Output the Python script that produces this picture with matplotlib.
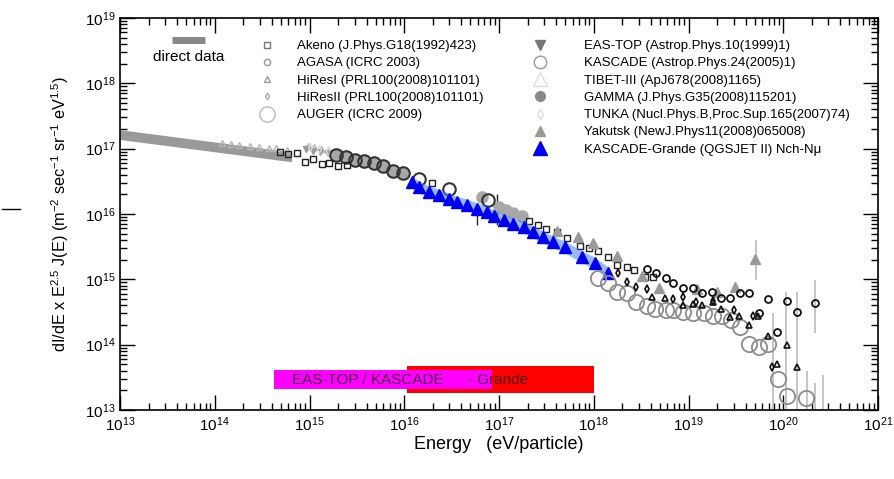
import matplotlib
matplotlib.use('Agg')
import numpy as np
import matplotlib.pyplot as plt
from matplotlib.lines import Line2D
from matplotlib.ticker import LogLocator, NullFormatter

plt.rcParams['font.family'] = ['Liberation Sans', 'DejaVu Sans']
plt.rcParams['mathtext.fontset'] = 'custom'
plt.rcParams['mathtext.rm'] = 'Liberation Sans'
plt.rcParams['mathtext.it'] = 'Liberation Sans:italic'
plt.rcParams['mathtext.bf'] = 'Liberation Sans:bold'

# all values are log10(E / eV) and log10(E^2.5 J(E))
direct_logE = [13.0, 14.81]
direct_top = [17.29, 16.95]
direct_bot = [17.14, 16.80]

tibet_logE = [14.08, 14.17, 14.26, 14.37, 14.47, 14.57, 14.65, 14.76,
              14.98, 15.05, 15.12, 15.19, 15.27, 15.34, 15.43]
tibet_logF = [17.09, 17.07, 17.06, 17.04, 17.03, 17.01, 17.01, 16.98,
              17.04, 17.03, 17.00, 16.98, 16.95, 16.93, 16.89]

eastop_logE = [14.96, 15.04, 15.11, 15.20]
eastop_logF = [16.99, 16.97, 16.95, 16.93]

tunka_logE = [15.01, 15.10, 15.20, 15.31]
tunka_logF = [17.02, 17.00, 16.97, 16.94]

kascade_logE = [15.28, 15.39, 15.48, 15.58, 15.68, 15.78, 15.88, 15.99, 16.16, 16.47, 16.88]
kascade_logF = [16.90, 16.87, 16.83, 16.81, 16.78, 16.73, 16.66, 16.63, 16.54, 16.38, 16.21]

gamma_logE = [15.28, 15.39, 15.48, 15.58, 15.68, 15.78, 15.88, 15.99, 16.82, 17.00, 17.07, 17.15, 17.24]
gamma_logF = [16.90, 16.87, 16.83, 16.81, 16.78, 16.73, 16.66, 16.63, 16.26, 16.11, 16.06, 16.02, 15.97]

akeno_logE = [14.69, 14.77, 14.87, 14.95, 15.04, 15.13, 15.21, 15.30, 15.40, 16.29,
              17.32, 17.41, 17.50, 17.61, 17.72, 17.86, 17.95, 18.04, 18.15, 18.25,
              18.35, 18.43, 18.54, 18.63]
akeno_logF = [16.95, 16.92, 16.93, 16.80, 16.84, 16.77, 16.78, 16.73, 16.75, 16.47,
              15.89, 15.83, 15.77, 15.72, 15.63, 15.51, 15.48, 15.43, 15.34, 15.22,
              15.19, 15.14, 15.04, 15.04]

yakutsk_logE = [17.61, 17.83, 17.99, 18.25, 18.51, 18.69, 19.09, 19.30, 19.49, 19.70]
yakutsk_logF = [15.74, 15.65, 15.56, 15.36, 15.05, 14.87, 14.85, 14.81, 14.88, 15.31]

grande_logE = [16.08, 16.16, 16.26, 16.37, 16.47, 16.56, 16.66, 16.77, 16.87, 16.95,
               17.05, 17.15, 17.26, 17.36, 17.46, 17.57, 17.70, 17.88, 18.01, 18.15]
grande_logF = [16.49, 16.41, 16.34, 16.29, 16.23, 16.18, 16.14, 16.08, 16.03, 15.97,
               15.91, 15.85, 15.80, 15.72, 15.65, 15.57, 15.49, 15.34, 15.25, 15.10]
grande_band = 0.09  # systematic band half width (dex)

agasa_logE = [18.56, 18.66, 18.76, 18.84, 18.94, 19.05, 19.14, 19.25, 19.34,
              19.44, 19.54, 19.64, 19.74, 19.84, 19.93, 20.04, 20.15, 20.33]
agasa_logF = [15.16, 15.10, 15.02, 14.94, 14.87, 14.87, 14.79, 14.81, 14.71,
              14.71, 14.79, 14.79, 14.48, 14.70, 14.19, 14.67, 14.50, 14.64]

hires1_logE = [18.62, 18.75, 18.94, 19.05, 19.14, 19.26, 19.34, 19.44, 19.53,
               19.64, 19.73, 19.84, 19.93, 20.04, 20.15]
hires1_logF = [14.73, 14.71, 14.61, 14.62, 14.61, 14.65, 14.55, 14.42, 14.44,
               14.30, 14.44, 14.13, 13.70, 13.99, 13.66]

hires2_logE = [18.26, 18.35, 18.45, 18.56, 18.84, 18.94, 19.08, 19.26, 19.48, 19.68, 19.88]
hires2_logF = [15.10, 14.96, 14.88, 14.85, 14.70, 14.73, 14.65, 14.67, 14.53, 14.44, 13.66]

auger_logE = [18.04, 18.15, 18.25, 18.35, 18.45, 18.56, 18.65, 18.76, 18.84, 18.94, 19.05,
              19.16, 19.26, 19.35, 19.45, 19.54, 19.64, 19.74, 19.84, 19.94, 20.04, 20.24]
auger_logF = [15.02, 14.94, 14.81, 14.79, 14.65, 14.59, 14.55, 14.53, 14.53, 14.50, 14.48,
              14.48, 14.44, 14.44, 14.38, 14.27, 14.01, 13.96, 14.01, 13.47, 13.21, 13.18]

# grey error bars at the highest energies (logE, lower end, upper end)
err_logE = [19.71, 19.89, 20.03, 20.15, 20.25, 20.33, 20.33, 20.42]
err_lo = [14.99, 12.9, 12.9, 12.9, 12.9, 14.18, 12.9, 12.9]
err_hi = [15.60, 14.48, 14.81, 14.80, 13.60, 14.99, 13.41, 13.54]

# KASCADE error bars
kerr_logE = [16.77, 16.98]
kerr_lo = [15.83, 15.83]
kerr_hi = [16.05, 16.30]

# energy ranges of the experiments (bars at the bottom)
eastop_range = [14.63, 16.93]
grande_range = [16.03, 18.00]


def p(v):
    return 10.0 ** np.asarray(v)


fig = plt.figure(figsize=(8.94, 4.79), dpi=100)
ax = fig.add_axes([120 / 894, 1 - 410 / 479, 758 / 894, 392 / 479])
ax.set_xscale('log')
ax.set_yscale('log')
ax.set_xlim(1e13, 1e21)
ax.set_ylim(1e13, 1e19)

# experiment ranges
ax.fill_between(p(grande_range), 10 ** 13.26, 10 ** 13.67, color='#ff0000', lw=0, zorder=1)
ax.fill_between(p(eastop_range), 10 ** 13.32, 10 ** 13.61, color='#ff00ff', lw=0, zorder=1.5)
ax.text(10 ** 14.82, 10 ** 13.465, 'EAS-TOP / KASCADE', fontsize=11, va='center', ha='left',
        color='black', alpha=0.7, zorder=2)
ax.text(10 ** 16.67, 10 ** 13.465, '- Grande', fontsize=11, va='center', ha='left',
        color='black', alpha=0.7, zorder=2)

# direct data band
ax.fill_between(p(direct_logE), p(direct_bot), p(direct_top), color='#999999', lw=0, zorder=2)

ax.vlines(p(err_logE), p(err_lo), p(err_hi), color='#bbbbbb', lw=1.2, zorder=2)
ax.vlines(p(kerr_logE), p(kerr_lo), p(kerr_hi), color='#222222', lw=1.0, zorder=2)

ax.plot(p(tibet_logE), p(tibet_logF), ls='none', marker='^', ms=5, mfc='none', mec='#b5b5b5', mew=1.0, zorder=3)
ax.plot(p(eastop_logE), p(eastop_logF), ls='none', marker='v', ms=5, mfc='#999999', mec='#999999', zorder=3)
ax.plot(p(tunka_logE), p(tunka_logF), ls='none', marker='d', ms=4, mfc='none', mec='#dddddd', zorder=3)
ax.plot(p(gamma_logE), p(gamma_logF), ls='none', marker='o', ms=8, mfc='#a8a8a8', mec='#a8a8a8', zorder=3)
ax.plot(p(kascade_logE), p(kascade_logF), ls='none', marker='o', ms=9, mfc='none', mec='#333333', mew=1.5, zorder=4)
ax.plot(p(akeno_logE), p(akeno_logF), ls='none', marker='s', ms=4.5, mfc='none', mec='#222222', mew=1.0, zorder=4)
ax.plot(p(yakutsk_logE), p(yakutsk_logF), ls='none', marker='^', ms=7, mfc='#9a9a9a', mec='#9a9a9a', zorder=4)

gE = p(grande_logE)
ax.fill_between(gE, p(np.asarray(grande_logF) - grande_band), p(np.asarray(grande_logF) + grande_band),
                color='#3f7fff', alpha=0.55, lw=0, zorder=4)
ax.plot(gE, p(grande_logF), ls='none', marker='^', ms=9, mfc='#0000ee', mec='#0000ee', zorder=5)

ax.plot(p(auger_logE), p(auger_logF), ls='none', marker='o', ms=11, mfc='none', mec='#8c8c8c', mew=1.3, zorder=5)
ax.plot(p(agasa_logE), p(agasa_logF), ls='none', marker='o', ms=5, mfc='none', mec='#111111', mew=1.3, zorder=6)
ax.plot(p(hires1_logE), p(hires1_logF), ls='none', marker='^', ms=5, mfc='none', mec='#111111', mew=1.2, zorder=6)
ax.plot(p(hires2_logE), p(hires2_logF), ls='none', marker='d', ms=4, mfc='none', mec='#111111', mew=1.2, zorder=6)

# axes styling
for s in ax.spines.values():
    s.set_linewidth(1.2)
ax.set_xticks([10.0 ** k for k in range(13, 22)])
ax.set_yticks([10.0 ** k for k in range(13, 20)])
for a in (ax.xaxis, ax.yaxis):
    a.set_minor_locator(LogLocator(base=10, subs=np.arange(2, 10), numticks=100))
    a.set_minor_formatter(NullFormatter())
ax.tick_params(which='both', direction='in', top=True, right=True, labelsize=11, width=1.0)
ax.tick_params(which='major', length=11)
ax.tick_params(which='minor', length=5)
ax.tick_params(axis='x', pad=4)
ax.set_xlabel('Energy   (eV/particle)', fontsize=13, labelpad=1)
ax.set_ylabel(r'dI/dE x E$^{2.5}$ J(E) (m$^{-2}$ sec$^{-1}$ sr$^{-1}$ eV$^{1.5}$)', fontsize=11.7, labelpad=10)

# legends
h_left = [
    Line2D([], [], ls='none', marker='s', ms=4.5, mfc='none', mec='#777777'),
    Line2D([], [], ls='none', marker='o', ms=4.5, mfc='none', mec='#999999'),
    Line2D([], [], ls='none', marker='^', ms=4.5, mfc='none', mec='#999999'),
    Line2D([], [], ls='none', marker='d', ms=3.5, mfc='none', mec='#aaaaaa'),
    Line2D([], [], ls='none', marker='o', ms=11, mfc='none', mec='#bbbbbb'),
]
l_left = ['Akeno (J.Phys.G18(1992)423)', 'AGASA (ICRC 2003)', 'HiResI (PRL100(2008)101101)',
          'HiResII (PRL100(2008)101101)', 'AUGER (ICRC 2009)']
h_right = [
    Line2D([], [], ls='none', marker='v', ms=7, mfc='#777777', mec='#777777'),
    Line2D([], [], ls='none', marker='o', ms=9, mfc='none', mec='#999999'),
    Line2D([], [], ls='none', marker='^', ms=10, mfc='none', mec='#dddddd'),
    Line2D([], [], ls='none', marker='o', ms=7, mfc='#888888', mec='#888888'),
    Line2D([], [], ls='none', marker='d', ms=5, mfc='none', mec='#dddddd'),
    Line2D([], [], ls='none', marker='^', ms=7, mfc='#999999', mec='#999999'),
    Line2D([], [], ls='none', marker='^', ms=10, mfc='#0000ee', mec='#0000ee'),
]
l_right = ['EAS-TOP (Astrop.Phys.10(1999)1)', 'KASCADE (Astrop.Phys.24(2005)1)', 'TIBET-III (ApJ678(2008)1165)',
           'GAMMA (J.Phys.G35(2008)115201)', 'TUNKA (Nucl.Phys.B,Proc.Sup.165(2007)74)',
           'Yakutsk (NewJ.Phys11(2008)065008)', 'KASCADE-Grande (QGSJET II) Nch-N\u03bc']
leg1 = ax.legend(h_left, l_left, loc='upper left', bbox_to_anchor=(260 / 894, 1 - 40 / 479),
                 bbox_transform=fig.transFigure, frameon=False, fontsize=9.5, handlelength=1.0,
                 handletextpad=1.8, labelspacing=0.38, borderpad=0, borderaxespad=0)
ax.add_artist(leg1)
ax.legend(h_right, l_right, loc='upper left', bbox_to_anchor=(533 / 894, 1 - 40 / 479),
          bbox_transform=fig.transFigure, frameon=False, fontsize=9.5, handlelength=1.0,
          handletextpad=2.85, labelspacing=0.38, borderpad=0, borderaxespad=0)

# direct data key
ax.add_line(Line2D([172 / 894, 205 / 894], [1 - 40 / 479] * 2, transform=fig.transFigure,
                   color='#888888', lw=5, solid_capstyle='butt'))
fig.text(189 / 894, 1 - 57 / 479, 'direct data', fontsize=11, ha='center', va='center')

# stray mark at the left edge of the original
fig.add_artist(Line2D([2 / 894, 20 / 894], [1 - 209 / 479] * 2, color='black', lw=1))

fig.savefig('out.png', dpi=100)
